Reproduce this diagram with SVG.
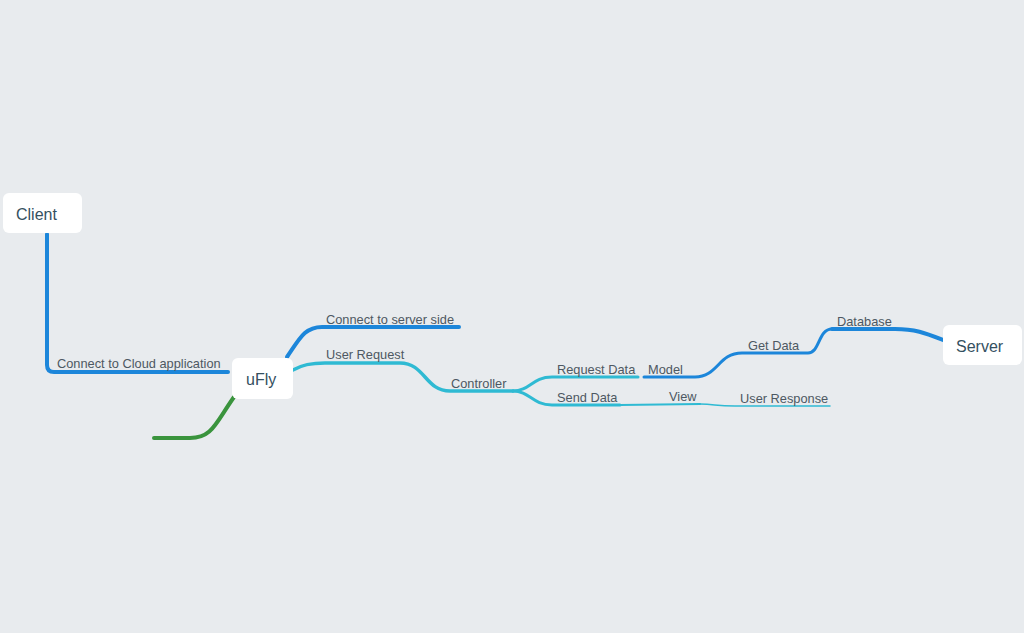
<svg xmlns="http://www.w3.org/2000/svg" width="1024" height="633" viewBox="0 0 1024 633">
<style>
.bg{fill:#e8ebee}
.node rect{fill:#ffffff}
.node text{font-family:"Helvetica Neue","Liberation Sans",Arial,sans-serif;font-size:16px;fill:#34505f}
.lbl{font-family:"Helvetica Neue","Liberation Sans",Arial,sans-serif;font-size:12.8px;fill:#4d5862}
.c path{fill:none;stroke-linecap:round;stroke-linejoin:round}
.blue{stroke:#1c86da}
.cyan{stroke:#2fbad3}
.green{stroke:#3a943d}
</style>
<rect class="bg" x="0" y="0" width="1024" height="633"/>
<g id="connectors" class="c">
<path class="blue" stroke-width="4" d="M47,234 L47,365 Q47,372 54,372 L228,372"/>
<path class="blue" stroke-width="4" d="M287,357 C300,338 305,327 322,327 L459,327"/>
<path class="green" stroke-width="4" d="M234,397 C215,424 212,438 190,438 L154,438"/>
<path class="cyan" stroke-width="3.5" d="M293,370 C302,365 310,363 325,363 L400,363 C425,363 425,391 450,391 L513,391"/>
<path class="cyan" stroke-width="3" d="M513,391 C530,391 532,377 552,377 L638,377"/>
<path class="cyan" stroke-width="3" d="M513,391 C530,391 532,405 552,405 L620,405"/>
<path class="cyan" stroke-width="2" d="M620,405 L700,404"/>
<path class="cyan" stroke-width="1.5" d="M700,404 C715,404 715,406 735,406 L830,406"/>
<path class="blue" stroke-width="3" d="M644,377 L695,377 C718,377 718,353 742,353 L808,353 C820,353 818,329 832,329"/>
<path class="blue" stroke-width="4" d="M832,329 L895,329 C915,329 925,333 943,340"/>
<text class="lbl" x="57" y="368">Connect to Cloud application</text>
<text class="lbl" x="326" y="324">Connect to server side</text>
<text class="lbl" x="326" y="359">User Request</text>
<text class="lbl" x="451" y="388">Controller</text>
<text class="lbl" x="557" y="374">Request Data</text>
<text class="lbl" x="557" y="402">Send Data</text>
<text class="lbl" x="648" y="374">Model</text>
<text class="lbl" x="669" y="401">View</text>
<text class="lbl" x="740" y="403">User Response</text>
<text class="lbl" x="748" y="350">Get Data</text>
<text class="lbl" x="837" y="326">Database</text>
</g>
<g id="client" class="node">
<rect x="3" y="193" width="79" height="40" rx="6"/>
<text x="16" y="220">Client</text>
</g>
<g id="ufly" class="node">
<rect x="232" y="358" width="61" height="41" rx="6"/>
<text x="246" y="385">uFly</text>
</g>
<g id="server" class="node">
<rect x="943" y="325" width="79" height="40" rx="6"/>
<text x="956" y="352">Server</text>
</g>
</svg>
